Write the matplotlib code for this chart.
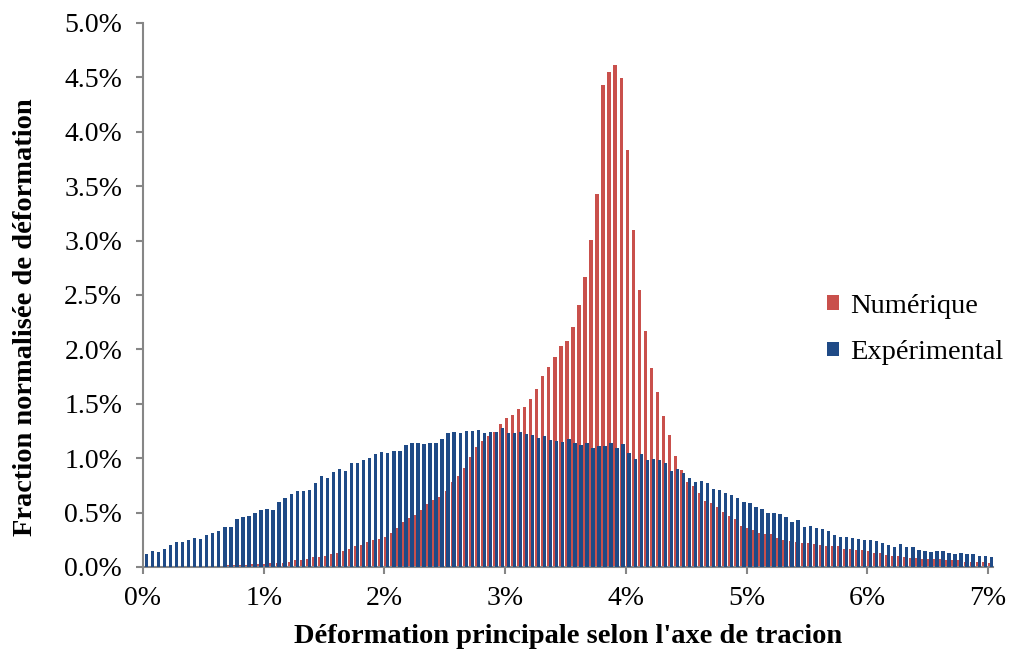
import matplotlib.pyplot as plt
import numpy as np

# strain classes, in percent (0 to 7 %, step 0.05 %)
strain = np.arange(141) * 0.05

numerique = [
    0, 0, 0, 0, 0, 0, 0, 0, 0.005, 0.005,
    0.005, 0.005, 0.01, 0.01, 0.015, 0.015, 0.02, 0.02, 0.025, 0.03,
    0.03, 0.035, 0.04, 0.04, 0.05, 0.06, 0.06, 0.07, 0.09, 0.09,
    0.10, 0.12, 0.13, 0.15, 0.17, 0.19, 0.20, 0.23, 0.25, 0.26,
    0.28, 0.31, 0.36, 0.41, 0.45, 0.48, 0.52, 0.58, 0.62, 0.64,
    0.70, 0.78, 0.84, 0.91, 1.01, 1.10, 1.16, 1.20, 1.24, 1.31,
    1.37, 1.40, 1.45, 1.47, 1.54, 1.64, 1.76, 1.84, 1.93, 2.03,
    2.08, 2.21, 2.41, 2.67, 3.01, 3.43, 4.43, 4.55, 4.61, 4.49,
    3.83, 3.10, 2.55, 2.17, 1.83, 1.61, 1.39, 1.21, 1.02, 0.89,
    0.78, 0.74, 0.68, 0.61, 0.59, 0.55, 0.51, 0.47, 0.44, 0.38,
    0.36, 0.34, 0.31, 0.30, 0.30, 0.27, 0.25, 0.24, 0.23, 0.22,
    0.22, 0.21, 0.20, 0.19, 0.19, 0.19, 0.17, 0.17, 0.16, 0.16,
    0.15, 0.13, 0.13, 0.11, 0.10, 0.10, 0.09, 0.08, 0.08, 0.07,
    0.07, 0.07, 0.07, 0.06, 0.06, 0.06, 0.05, 0.05, 0.05, 0.05,
    0.04,
]

experimental = [
    0.12, 0.15, 0.14, 0.17, 0.20, 0.23, 0.23, 0.25, 0.27, 0.26,
    0.29, 0.31, 0.33, 0.37, 0.37, 0.44, 0.46, 0.47, 0.50, 0.52,
    0.53, 0.52, 0.60, 0.63, 0.67, 0.70, 0.70, 0.71, 0.77, 0.84,
    0.82, 0.87, 0.90, 0.88, 0.96, 0.96, 0.98, 1.00, 1.04, 1.06,
    1.05, 1.07, 1.07, 1.12, 1.14, 1.14, 1.13, 1.14, 1.14, 1.18,
    1.23, 1.24, 1.23, 1.25, 1.25, 1.26, 1.23, 1.24, 1.24, 1.28,
    1.23, 1.23, 1.24, 1.22, 1.21, 1.19, 1.20, 1.17, 1.16, 1.15,
    1.18, 1.14, 1.12, 1.14, 1.09, 1.11, 1.11, 1.14, 1.09, 1.13,
    1.05, 0.99, 1.04, 0.98, 0.99, 0.98, 0.96, 0.88, 0.90, 0.86,
    0.82, 0.78, 0.79, 0.77, 0.72, 0.71, 0.68, 0.66, 0.63, 0.60,
    0.59, 0.55, 0.53, 0.50, 0.50, 0.49, 0.46, 0.41, 0.43, 0.37,
    0.38, 0.36, 0.35, 0.33, 0.29, 0.28, 0.28, 0.27, 0.26, 0.25,
    0.25, 0.24, 0.22, 0.20, 0.18, 0.21, 0.18, 0.18, 0.16, 0.15,
    0.14, 0.15, 0.15, 0.13, 0.12, 0.13, 0.12, 0.12, 0.10, 0.10,
    0.09,
]

x_ticks = np.arange(0, 8)
y_ticks = np.arange(0, 5.01, 0.5)

red = '#C9504C'
blue = '#1F4A86'
grey = '#868686'

plt.rcParams['font.family'] = ['Liberation Serif', 'DejaVu Serif']

fig = plt.figure(figsize=(10.12, 6.51), dpi=100)
ax = fig.add_axes([143 / 1012, 84 / 651, 850 / 1012, 544 / 651])

w = 0.028
ax.bar(strain + 0.012, numerique, width=w, color=red, label='Numérique', zorder=2)
ax.bar(strain + 0.028, experimental, width=w, color=blue, label='Expérimental', zorder=3)

ax.set_xlim(0, 850 / 120.7)
ax.set_ylim(0, 5.0)
ax.set_xticks(x_ticks)
ax.set_xticklabels(['%d%%' % t for t in x_ticks])
ax.set_yticks(y_ticks)
ax.set_yticklabels(['%.1f%%' % t for t in y_ticks])

for s in ['top', 'right']:
    ax.spines[s].set_visible(False)
for s in ['left', 'bottom']:
    ax.spines[s].set_color(grey)
    ax.spines[s].set_linewidth(1.5)
ax.tick_params(axis='both', direction='out', length=5, width=1.5, color=grey,
               labelsize=20, colors='black')
ax.tick_params(axis='x', pad=9)
ax.tick_params(axis='y', pad=10)

ax.set_xlabel("Déformation principale selon l'axe de tracion", fontsize=20.5,
              fontweight='bold')
ax.xaxis.set_label_coords(0.5, -0.104)
ax.set_ylabel('Fraction normalisée de déformation', fontsize=20.5,
              fontweight='bold')
ax.yaxis.set_label_coords(-0.123, 0.46)

ax.legend(loc='center left', bbox_to_anchor=(813 / 1012, 0.494),
          bbox_transform=fig.transFigure, frameon=False, fontsize=20.5,
          handlelength=0.42, handleheight=0.42, handletextpad=0.38,
          labelspacing=0.76, borderpad=0)

fig.savefig('out.png', dpi=100)
